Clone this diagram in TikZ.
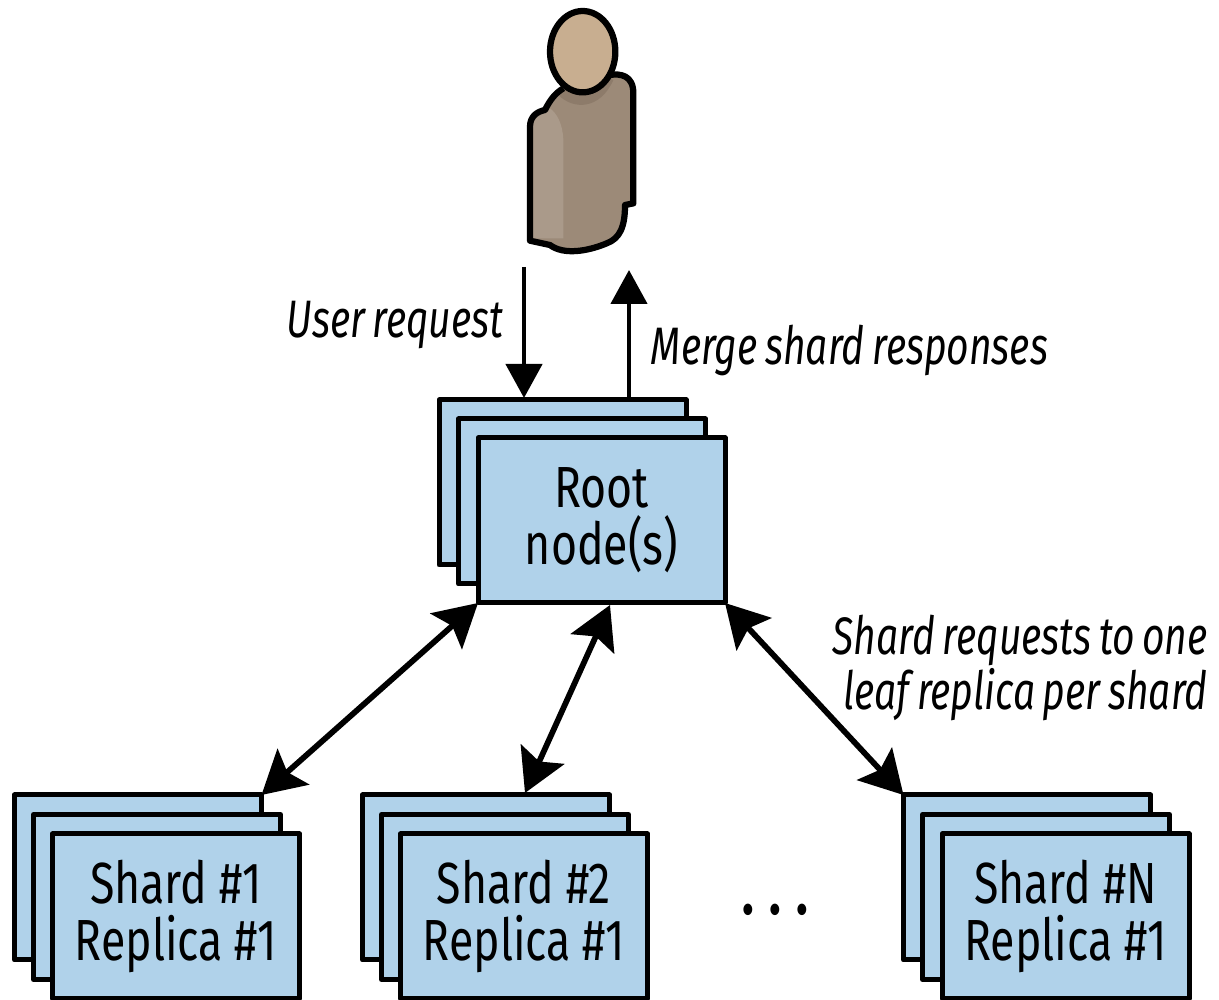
\documentclass[tikz,border=0pt]{standalone}
\usepackage{fontspec}
\setmainfont[FakeStretch=0.77,ItalicFeatures={FakeStretch=0.74,WordSpace=0.75}]{Fira Sans}
\usetikzlibrary{arrows.meta}
\definecolor{boxblue}{HTML}{B0D2EA}
\definecolor{skin}{HTML}{C8AE90}
\definecolor{coat}{HTML}{9C8A78}
\definecolor{coatlight}{HTML}{AA9A8A}
\definecolor{coatdark}{HTML}{8D7B6A}
\tikzset{
 card/.style={draw,fill=boxblue,line width=.1cm,line join=round,outer sep=0pt,
  minimum width=4.94cm,minimum height=3.3cm,align=center,
  font=\fontsize{33}{32.4}\selectfont},
 note/.style={font=\fontsize{30}{26}\selectfont\itshape,align=right,inner sep=0pt},
 both/.style={line width=.115cm,{Stealth[length=.85cm,width=.95cm,inset=.16cm]}-{Stealth[length=.85cm,width=.95cm,inset=.16cm]}},
 single/.style={line width=.09cm,-{Triangle[length=.68cm,width=.72cm]}}
}
\begin{document}
\begin{tikzpicture}
 \useasboundingbox[fill=white] (0,0) rectangle (24.38,20);
 % person
 \begin{scope}[shift={(10,20)},x=.00667cm,y=-.00667cm]
  \path[fill=coat] (330,225) .. controls (360,220) and (400,225) .. (400,280)
   -- (400,610) -- (375,615) .. controls (375,680) and (360,715) .. (320,730)
   .. controls (260,755) and (190,765) .. (150,735) -- (90,722) -- (90,380)
   .. controls (90,350) and (110,335) .. (135,330)
   .. controls (150,300) and (165,280) .. (190,265) -- cycle;
  \fill[coatlight] (97,715) -- (190,715) -- (190,420) .. controls (188,370) and (170,340) .. (150,325)
   .. controls (120,340) and (97,350) .. (97,385) -- cycle;
  \fill[coatdark] (175,285) .. controls (220,330) and (300,330) .. (340,240) -- (300,225) -- (200,260) -- cycle;
  \draw[line width=.125cm,line join=round] (330,225) .. controls (360,220) and (400,225) .. (400,280)
   -- (400,610) -- (375,615) .. controls (375,680) and (360,715) .. (320,730)
   .. controls (260,755) and (190,765) .. (150,735) -- (90,722) -- (90,380)
   .. controls (90,350) and (110,335) .. (135,330)
   .. controls (150,300) and (165,280) .. (190,265);
  \draw[line width=.125cm,fill=skin] (248,155) ellipse (98 and 122);
 \end{scope}
 % root stack
 \node[card] (root3) at (11.25,10.35) {};
 \node[card] (root2) at (11.64,9.97) {};
 \node[card] (root1) at (12.03,9.59) {Root\\node(s)};
 % shard stacks
 \node[card] (shard1c) at (2.76,2.45) {};
 \node[card] (shard1b) at (3.14,2.06) {};
 \node[card] (shard1a) at (3.52,1.67) {Shard \#1\\Replica \#1};
 \node[card] (shard2c) at (9.72,2.45) {};
 \node[card] (shard2b) at (10.10,2.06) {};
 \node[card] (shard2a) at (10.48,1.67) {Shard \#2\\Replica \#1};
 \node[card] (shardNc) at (20.54,2.45) {};
 \node[card] (shardNb) at (20.92,2.06) {};
 \node[card] (shardNa) at (21.31,1.67) {Shard \#N\\Replica \#1};
 \node[font=\fontsize{36}{36}\selectfont\bfseries] (dots) at (15.5,1.8) {. . .};
 % arrows
 \coordinate (userstart) at (10.48,14.66);
 \coordinate (userend) at (10.48,12.04);
 \coordinate (mergestart) at (12.58,12);
 \coordinate (mergeend) at (12.58,14.6);
 \coordinate (rootbottom) at (12.2,7.9);
 \coordinate (shardtop) at (10.5,4.14);
 \draw[single] (userstart) -- (userend);
 \draw[single] (mergestart) -- (mergeend);
 \draw[both] (root1.south west) -- (shard1c.north east);
 \draw[both] (rootbottom) -- (shardtop);
 \draw[both] (root1.south east) -- (shardNc.north west);
 % labels
 \node[note] (userlabel) at (7.9,13.5) {User request};
 \node[note] (mergelabel) at (16.99,13) {Merge shard responses};
 \node[note,anchor=east] (shardlabel) at (24.16,6.64) {Shard requests to one\\leaf replica per shard};
\end{tikzpicture}
\end{document}
